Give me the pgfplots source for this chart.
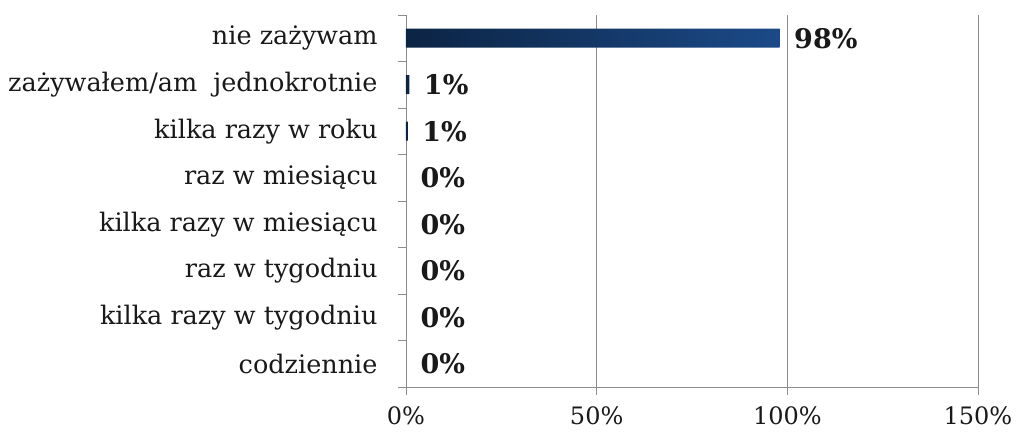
\documentclass[border=0pt]{standalone}
\usepackage{pgfplots}
\pgfplotsset{compat=1.18}
\usepackage{fontspec}
\setmainfont{DejaVu Serif}
\definecolor{barL}{HTML}{0C2444}
\definecolor{barR}{HTML}{1B4A88}
\definecolor{gridc}{HTML}{8C8C8C}
\begin{document}
\begin{tikzpicture}
\begin{axis}[
 scale only axis, width=572pt, height=372pt,
 xmin=0, xmax=150, ymin=-0.5, ymax=7.5,
 xbar, bar width=19pt, bar shift=0pt,
 axis x line*=bottom, axis y line*=left,
 axis line style={gridc, line width=0.8pt, -},
 xtick={0,50,100,150},
 xticklabels={0\%,50\%,100\%,150\%},
 xmajorgrids, major grid style={gridc, line width=0.8pt},
 ytick={0,...,7},
 yticklabels={codziennie, kilka razy w tygodniu, raz w tygodniu, kilka razy w miesiącu, raz w miesiącu, kilka razy w roku, zażywałem/am\ \ jednokrotnie, nie zażywam},
 minor ytick={-0.5,0.5,...,7.5},
 every major y tick/.style={draw=none},
 tick align=outside,
 major tick length=8pt, minor tick length=8pt,
 tick style={gridc, line width=0.8pt},
 xticklabel style={font=\fontsize{24}{27}\selectfont, text=black!90, inner sep=0pt, yshift=-11pt},
 yticklabel style={font=\fontsize{25.5}{29}\selectfont, text=black!90, xshift=-17pt},
 point meta=explicit,
 nodes near coords={\pgfmathprintnumber[assume math mode=true]{\pgfplotspointmeta}\%},
 nodes near coords style={font=\bfseries\fontsize{27}{30}\selectfont, text=black!90, anchor=west, xshift=11pt},
]
\addplot[draw=none, left color=barL, right color=barR] table[x=v, y=y, meta=lab] {
y v lab
7 98 98
6 0.9 1
5 0.5 1
};
\addplot[draw=none, fill=none] table[x=v, y=y, meta=lab] {
y v lab
4 0 0
3 0 0
2 0 0
1 0 0
0 0 0
};
\end{axis}
\path (current axis.north east) ++(0,15pt);
\path (current axis.south east) ++(40pt,-46pt);
\path (current axis.south west) ++(-406pt,0);
\end{tikzpicture}
\end{document}
